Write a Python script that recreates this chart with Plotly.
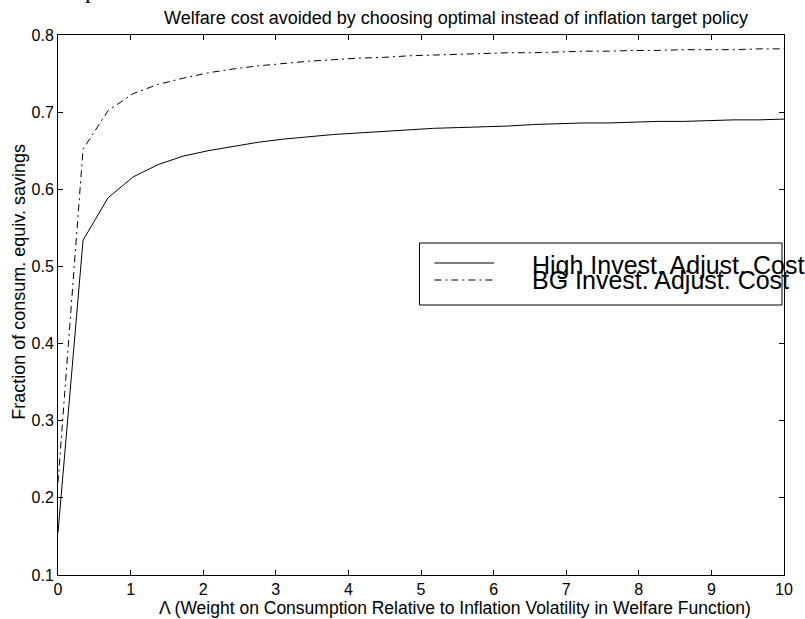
import plotly.graph_objects as go

lam = [0.000, 0.345, 0.690, 1.034, 1.379, 1.724, 2.069, 2.414, 2.759, 3.103,
       3.448, 3.793, 4.138, 4.483, 4.828, 5.172, 5.517, 5.862, 6.207, 6.552,
       6.897, 7.241, 7.586, 7.931, 8.276, 8.621, 8.966, 9.310, 9.655, 10.000]

high_cost = [0.155, 0.534, 0.589, 0.616, 0.632, 0.643, 0.650, 0.656, 0.661, 0.665,
             0.668, 0.671, 0.673, 0.675, 0.677, 0.679, 0.680, 0.681, 0.682, 0.684,
             0.685, 0.686, 0.686, 0.687, 0.688, 0.688, 0.689, 0.690, 0.690, 0.691]

bg_cost = [0.220, 0.652, 0.702, 0.724, 0.736, 0.744, 0.751, 0.756, 0.760, 0.763,
           0.766, 0.768, 0.770, 0.771, 0.773, 0.774, 0.775, 0.776, 0.777, 0.777,
           0.778, 0.779, 0.779, 0.780, 0.780, 0.781, 0.781, 0.781, 0.782, 0.782]

series_names = ["High Invest. Adjust. Cost", "BG Invest. Adjust. Cost"]
x_ticks = list(range(0, 11))
y_ticks = [0.1, 0.2, 0.3, 0.4, 0.5, 0.6, 0.7, 0.8]

FONT = "Liberation Sans, Arial, Helvetica, sans-serif"
DASHDOT = "7px,4px,2px,4px"

W, H = 805, 619
L, R, T, B = 58, 16, 35, 44
PW, PH = W - L - R, H - T - B


def px(x):
    return (x - L) / PW


def py(y):
    return (H - B - y) / PH


fig = go.Figure()
fig.add_trace(go.Scatter(x=lam, y=high_cost, mode="lines", name=series_names[0],
                         line=dict(color="black", width=1), showlegend=False))
fig.add_trace(go.Scatter(x=lam, y=bg_cost, mode="lines", name=series_names[1],
                         line=dict(color="black", width=1, dash=DASHDOT), showlegend=False))

axis_common = dict(showline=True, linecolor="black", linewidth=1, mirror="ticks",
                   ticks="inside", ticklen=5, tickcolor="black", tickwidth=1,
                   showgrid=False, zeroline=False,
                   tickfont=dict(family=FONT, size=16, color="black"))

fig.update_xaxes(range=[0, 10], tickvals=x_ticks, ticktext=[str(v) for v in x_ticks],
                 **axis_common)
fig.update_yaxes(range=[0.1, 0.8], tickvals=y_ticks, ticktext=[f"{v:.1f}" for v in y_ticks],
                 **axis_common)

annotations = [
    dict(text="Welfare cost avoided by choosing optimal instead of inflation target policy",
         x=px(459), y=py(18), xref="paper", yref="paper", showarrow=False,
         xanchor="center", yanchor="middle", font=dict(family=FONT, size=18, color="black")),
    dict(text="\u039b (Weight on Consumption Relative to Inflation Volatility in Welfare Function)",
         x=px(458), y=py(608), xref="paper", yref="paper", showarrow=False,
         xanchor="center", yanchor="middle", font=dict(family=FONT, size=17.5, color="black")),
    dict(text="Fraction of consum. equiv. savings",
         x=px(18.5), y=py(282), xref="paper", yref="paper", showarrow=False, textangle=-90,
         xanchor="center", yanchor="middle", font=dict(family=FONT, size=18, color="black")),
    dict(text=series_names[0], x=px(533), y=py(265), xref="paper", yref="paper",
         showarrow=False, xanchor="left", yanchor="middle",
         font=dict(family=FONT, size=25, color="black")),
    dict(text=series_names[1], x=px(533), y=py(280), xref="paper", yref="paper",
         showarrow=False, xanchor="left", yanchor="middle",
         font=dict(family=FONT, size=25, color="black")),
    dict(text="p", x=px(91), y=py(-10), xref="paper", yref="paper",
         showarrow=False, xanchor="center", yanchor="middle",
         font=dict(family="Liberation Serif, Times New Roman, serif", size=24, color="black")),
]

shapes = [
    dict(type="rect", xref="paper", yref="paper", x0=px(422), x1=px(787), y0=py(305), y1=py(243),
         line=dict(color="black", width=1), fillcolor="white", layer="above"),
    dict(type="line", xref="paper", yref="paper", x0=px(437), x1=px(497), y0=py(263), y1=py(263),
         line=dict(color="black", width=1)),
    dict(type="line", xref="paper", yref="paper", x0=px(437), x1=px(497), y0=py(280), y1=py(280),
         line=dict(color="black", width=1, dash=DASHDOT)),
]

fig.update_layout(width=W, height=H, margin=dict(l=L, r=R, t=T, b=B, pad=0),
                  paper_bgcolor="white", plot_bgcolor="white",
                  showlegend=False, annotations=annotations, shapes=shapes)

fig.write_html("out.html")
